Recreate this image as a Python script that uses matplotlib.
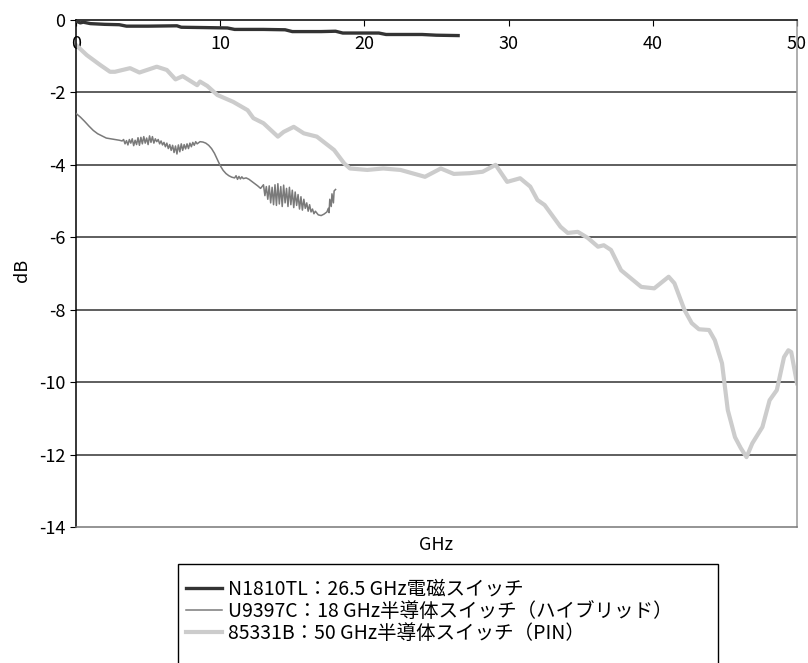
import matplotlib
matplotlib.use('Agg')
import matplotlib.pyplot as plt
from matplotlib.patches import Rectangle

plt.rcParams['font.family'] = ['Noto Sans CJK JP', 'DejaVu Sans']
plt.rcParams['axes.unicode_minus'] = False

# N1810TL : 26.5 GHz electromechanical switch
n1810_ghz = [0.0, 0.3, 0.5, 1.0, 2.0, 3.0, 3.5, 5.0, 7.0, 7.3, 9.0, 10.5, 11.0, 13.0,
             14.5, 15.0, 17.0, 18.0, 18.5, 21.0, 21.5, 24.0, 25.0, 26.5]
n1810_db = [-0.03, -0.08, -0.06, -0.10, -0.12, -0.13, -0.17, -0.17, -0.16, -0.20, -0.21,
            -0.22, -0.26, -0.26, -0.27, -0.32, -0.32, -0.31, -0.36, -0.36, -0.40, -0.40,
            -0.42, -0.43]

# U9397C : 18 GHz solid state switch (hybrid)
u9397_ghz = [0.0, 0.3, 0.6, 0.9, 1.2, 1.5, 1.8, 2.1, 2.4, 2.7, 3.0, 3.2,
             3.3, 3.4, 3.5, 3.6, 3.7, 3.8, 3.9, 4.0, 4.1, 4.2, 4.3, 4.4, 4.5, 4.6, 4.7,
             4.8, 4.9, 5.0, 5.1, 5.2, 5.3, 5.4, 5.5, 5.6, 5.7, 5.8, 5.9, 6.0, 6.1, 6.2,
             6.3, 6.4, 6.5, 6.6, 6.7, 6.8, 6.9, 7.0, 7.1, 7.2, 7.3, 7.4, 7.5, 7.6, 7.7,
             7.8, 7.9, 8.0, 8.1, 8.2, 8.3, 8.4, 8.6, 8.8, 9.0, 9.2, 9.4, 9.6, 9.8, 10.0,
             10.2, 10.4, 10.6, 10.8, 11.0, 11.1, 11.2, 11.3, 11.4, 11.5, 11.6, 11.8,
             12.0, 12.2, 12.4, 12.6, 12.8,
             13.0, 13.1, 13.2, 13.3, 13.4, 13.5, 13.6, 13.7, 13.8, 13.9, 14.0, 14.1,
             14.2, 14.3, 14.4, 14.5, 14.6, 14.7, 14.8, 14.9, 15.0, 15.1, 15.2, 15.3,
             15.4, 15.5, 15.6, 15.7, 15.8, 15.9, 16.0, 16.1, 16.2, 16.3, 16.4, 16.5,
             16.6, 16.8, 17.0, 17.2, 17.4, 17.5, 17.55, 17.6, 17.7, 17.75, 17.85, 17.9,
             18.0]
u9397_db = [-2.58, -2.68, -2.80, -2.93, -3.05, -3.14, -3.20, -3.26, -3.28, -3.30, -3.32, -3.34,
            -3.30, -3.42, -3.33, -3.45, -3.30, -3.40, -3.28, -3.47, -3.32, -3.44, -3.25,
            -3.46, -3.24, -3.42, -3.22, -3.40, -3.26, -3.44, -3.20, -3.38, -3.22, -3.40,
            -3.28, -3.36, -3.30, -3.42, -3.34, -3.45, -3.38, -3.50, -3.40, -3.55, -3.44,
            -3.60, -3.46, -3.66, -3.48, -3.70, -3.45, -3.64, -3.42, -3.60, -3.44, -3.56,
            -3.42, -3.55, -3.40, -3.50, -3.38, -3.46, -3.36, -3.42, -3.36, -3.37, -3.40,
            -3.46, -3.55, -3.68, -3.85, -4.02, -4.15, -4.24, -4.30, -4.34, -4.36, -4.30,
            -4.40, -4.32, -4.39, -4.33, -4.38, -4.36, -4.40, -4.46, -4.52, -4.58, -4.65,
            -4.55, -4.85, -4.60, -4.95, -4.58, -5.05, -4.62, -5.10, -4.55, -5.12, -4.52,
            -5.08, -4.60, -5.15, -4.56, -5.05, -4.65, -5.15, -4.62, -5.10, -4.70, -5.18,
            -4.75, -5.12, -4.82, -5.22, -4.88, -5.25, -4.95, -5.20, -5.05, -5.28, -5.10,
            -5.30, -5.22, -5.35, -5.28, -5.38, -5.40, -5.36, -5.30, -5.20, -5.32, -4.95,
            -5.15, -4.80, -5.05, -4.72, -4.68]

# 85331B : 50 GHz solid state switch (PIN)
p85331_ghz = [0.0, 0.75, 1.67, 2.36, 2.7, 3.75, 4.4, 5.6, 6.3, 6.9, 7.4, 8.4, 8.6, 9.1,
              9.8, 10.9, 11.9, 12.3, 13.0, 14.0, 14.4, 15.1, 15.8, 16.7, 17.9, 18.6,
              19.0, 20.2, 21.3, 22.5, 24.2, 25.3, 26.2, 27.3, 28.2, 29.1, 29.9, 30.8,
              31.5, 32.0, 32.5, 33.6, 34.1, 34.8, 35.5, 36.2, 36.6, 37.1, 37.8, 39.2,
              40.1, 41.1, 41.5, 42.2, 42.7, 43.2, 43.9, 44.3, 44.8, 45.2, 45.7, 46.1,
              46.5, 46.9, 47.6, 48.1, 48.6, 49.1, 49.4, 49.6, 50.0]
p85331_db = [-0.69, -0.97, -1.24, -1.43, -1.43, -1.33, -1.45, -1.29, -1.38, -1.64, -1.55,
             -1.80, -1.70, -1.82, -2.07, -2.26, -2.49, -2.71, -2.85, -3.22, -3.09, -2.95,
             -3.13, -3.22, -3.59, -3.96, -4.10, -4.14, -4.10, -4.14, -4.33, -4.10, -4.25,
             -4.23, -4.19, -4.00, -4.47, -4.37, -4.60, -4.97, -5.11, -5.71, -5.88, -5.85,
             -6.02, -6.26, -6.22, -6.35, -6.91, -7.37, -7.41, -7.09, -7.27, -8.01, -8.37,
             -8.54, -8.56, -8.84, -9.48, -10.77, -11.52, -11.82, -12.07, -11.69, -11.24,
             -10.50, -10.22, -9.31, -9.12, -9.17, -10.03]

labels = ['N1810TL：26.5 GHz電磁スイッチ',
          'U9397C：18 GHz半導体スイッチ（ハイブリッド）',
          '85331B：50 GHz半導体スイッチ（PIN）']

fig = plt.figure(figsize=(8.08, 6.63), dpi=100)
ax = fig.add_axes([76/808, 1-527/663, (797-76)/808, 507/663])

ax.plot(n1810_ghz, n1810_db, color='#333333', lw=2.4, label=labels[0], zorder=4)
ax.plot(u9397_ghz, u9397_db, color='#7a7a7a', lw=1.1, label=labels[1], zorder=3)
ax.plot(p85331_ghz, p85331_db, color='#cccccc', lw=3.0, label=labels[2], zorder=2)

ax.set_xlim(0, 50)
ax.set_ylim(-14, 0)
ax.set_yticks(range(-14, 1, 2))
ax.set_xticks(range(0, 51, 10))

# gridlines
for yv in range(-12, -1, 2):
    ax.axhline(yv, color='#333333', lw=1.1, zorder=1)

ax.spines['top'].set_color('black')
ax.spines['left'].set_color('black')
ax.spines['right'].set_color('#999999')
ax.spines['bottom'].set_color('#777777')
for s in ax.spines.values():
    s.set_linewidth(1.1)

ax.xaxis.set_ticks_position('top')
ax.tick_params(axis='x', direction='in', length=4, pad=-24, labelsize=13,
               labeltop=True, labelbottom=False)
ax.tick_params(axis='y', direction='out', length=4, labelsize=13)

fig.text(22/808, 1-270/663, 'dB', ha='center', va='center', rotation=90, fontsize=13)
fig.text(436.5/808, 1-545/663, 'GHz', ha='center', va='center', fontsize=13)

# legend box runs off the bottom edge, as in the original
fig.patches.append(Rectangle((178/808, -0.05), 540/808, 0.05 + 1-564/663,
                             transform=fig.transFigure, fill=False,
                             edgecolor='black', lw=1.0))
leg = fig.legend(loc='upper left', bbox_to_anchor=(186/808, 1-579/663), fontsize=14,
                 frameon=False, handlelength=1.85, handletextpad=0.3,
                 labelspacing=0.04, borderpad=0, borderaxespad=0)

plt.savefig('out.png', dpi=100)
